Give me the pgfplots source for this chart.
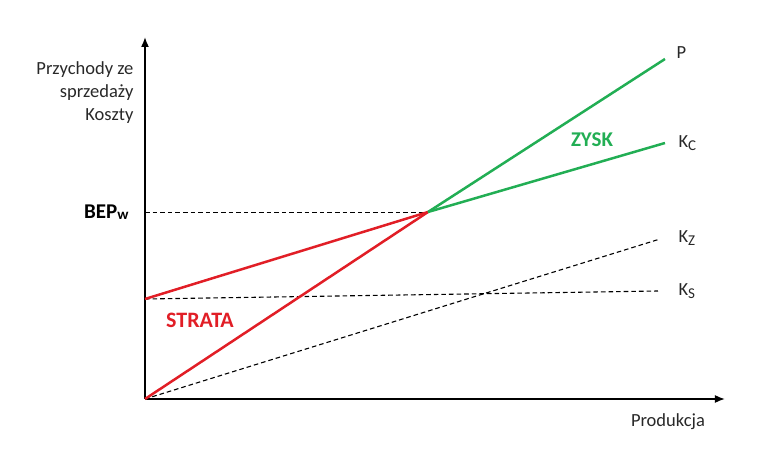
\documentclass[border=0pt]{standalone}
\usepackage{pgfplots}
\pgfplotsset{compat=1.18}
\usepackage{fontspec}
\setmainfont{Carlito}
\usetikzlibrary{arrows.meta}
\definecolor{strata}{RGB}{225,30,38}
\definecolor{zysk}{RGB}{34,174,84}
\definecolor{tekst}{RGB}{40,40,40}
\begin{document}
\begin{tikzpicture}
\fontsize{9.25}{11}\selectfont
\begin{axis}[
    x=0.5pt, y=0.5pt,
    xmin=0, xmax=580, ymin=0, ymax=362,
    axis lines=left,
    axis line style={line width=0.8pt, -{Latex[length=5pt,width=4pt]}},
    xtick=\empty, ytick=\empty,
    clip=false,
]
% niewidoczna ramka = rozmiar obrazka
\path (axis cs:-145,399) rectangle (axis cs:623,-57);

% linie pomocnicze
\addplot[black, dash pattern=on 2.3pt off 1.5pt, line width=0.45pt] coordinates {(0,187) (283,187)};
\addplot[black, dash pattern=on 2.3pt off 1.5pt, line width=0.55pt] coordinates {(0,0) (515,160)};
\addplot[black, dash pattern=on 2.3pt off 1.5pt, line width=0.55pt] coordinates {(0,100) (513,108)};

% przychody i koszty calkowite
\addplot[strata, line width=1.25pt] coordinates {(0,0) (283,187)};
\addplot[strata, line width=1.25pt] coordinates {(0,100) (283,187)};
\addplot[zysk, line width=1.25pt] coordinates {(283,187) (520,340)};
\addplot[zysk, line width=1.25pt] coordinates {(283,187) (520,256)};

% opisy
\node[tekst, anchor=west] at (axis cs:525,346) {P};
\node[tekst, anchor=west] at (axis cs:527,256) {K{\fontsize{7.5}{9}\selectfont\raisebox{-0.35ex}{C}}};
\node[tekst, anchor=west] at (axis cs:527,161) {K{\fontsize{7.5}{9}\selectfont\raisebox{-0.35ex}{Z}}};
\node[tekst, anchor=west] at (axis cs:527,108) {K{\fontsize{7.5}{9}\selectfont\raisebox{-0.35ex}{S}}};
\node[zysk, font=\bfseries\fontsize{10.5}{12}\selectfont] at (axis cs:447,259) {ZYSK};
\node[strata, font=\bfseries\fontsize{11}{13}\selectfont] at (axis cs:55,79) {STRATA};
\node[anchor=east, font=\bfseries\fontsize{10.5}{12}\selectfont] at (axis cs:-10,187) {BEP{\fontsize{7.5}{9}\selectfont\raisebox{-0.2ex}{w}}};
\node[tekst, anchor=east, align=right, font=\fontsize{9.25}{11.5}\selectfont] at (axis cs:-5,306) {Przychody ze\\sprzedaży\\Koszty};
\node[tekst] at (axis cs:523,-23) {Produkcja};
\end{axis}
\end{tikzpicture}
\end{document}
